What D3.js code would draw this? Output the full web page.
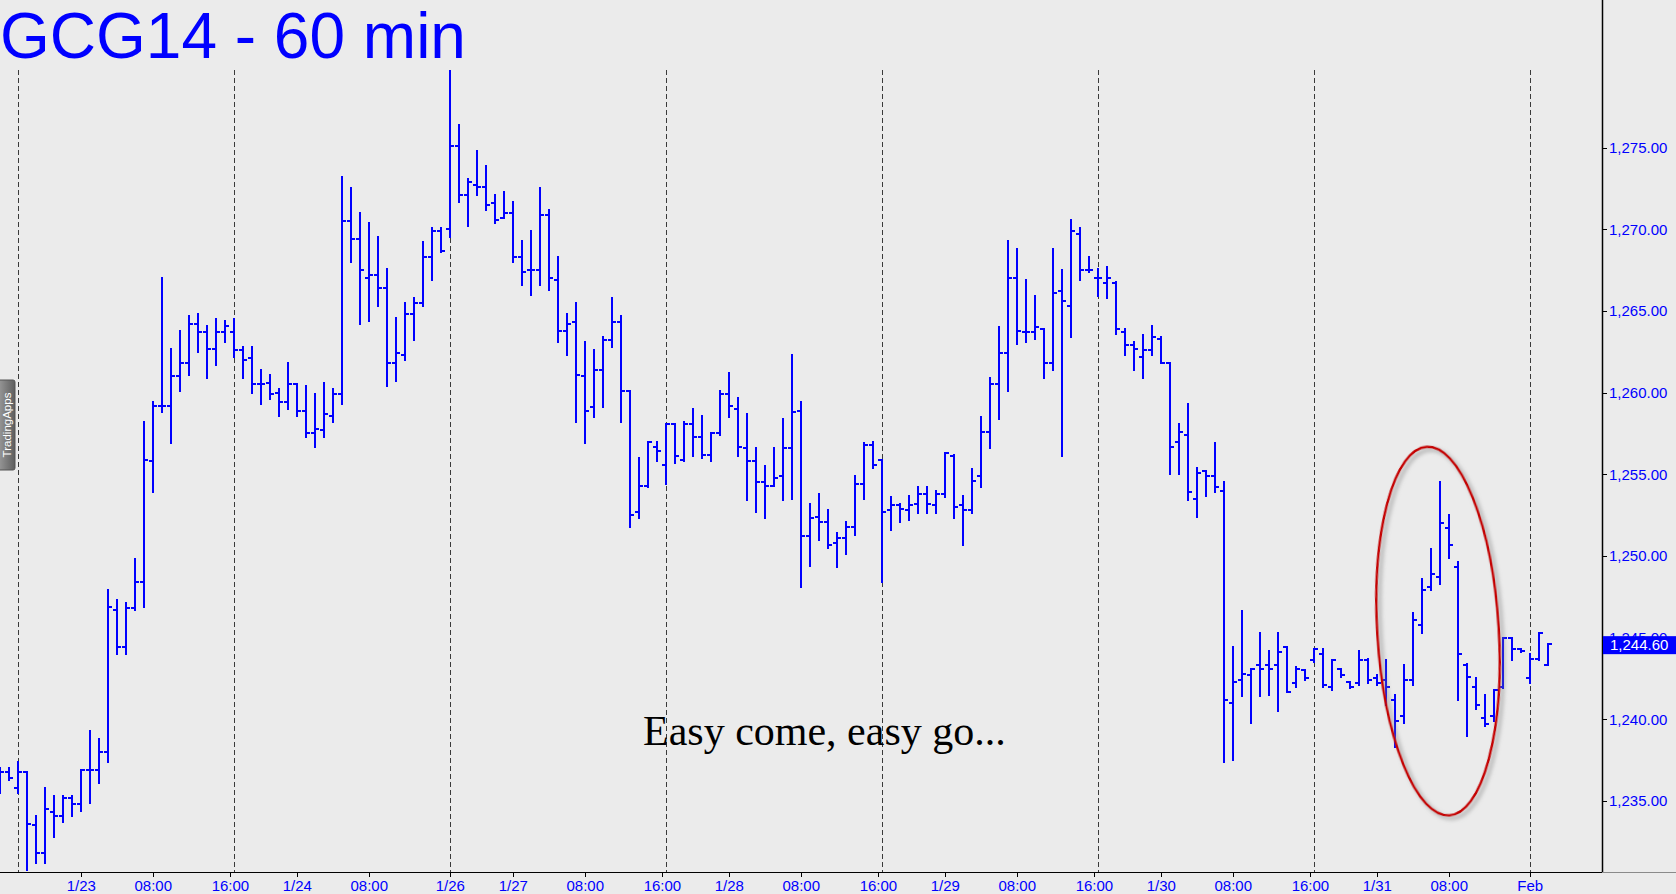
<!DOCTYPE html>
<html><head><meta charset="utf-8">
<script src="https://cdn.jsdelivr.net/npm/d3@7"></script>
<style>html,body{margin:0;padding:0;background:#ebebeb;overflow:hidden}</style>
</head><body>
<svg id="c" width="1676" height="894"></svg>
<script>
// ---- data (60-minute OHLC bars, GCG14) ----
const firstBarIndex = -2;
const opens = [1237.0,1236.8,1235.8,1236.8,1233.5,1231.8,1234.3,1234.1,1235.2,1234.8,1236.9,1236.9,1238.0,1246.7,1244.4,1246.8,1248.4,1255.8,1259.2,1259.2,1261.0,1261.8,1264.2,1263.7,1262.7,1263.7,
1263.7,1262.6,1262.1,1260.5,1260.6,1260.0,1259.4,1260.5,1258.9,1257.5,1257.7,1258.6,1259.9,1270.5,1269.4,1267.0,1267.2,1266.4,1261.8,1262.3,1264.8,1265.5,1268.3,1269.9,
1270.0,1275.1,1272.1,1272.7,1272.6,1271.6,1270.7,1271.0,1268.3,1267.5,1267.5,1270.9,1266.9,1263.8,1264.3,1261.0,1259.1,1261.4,1263.2,1264.3,1260.1,1252.7,1254.3,1256.7,
1255.6,1258.1,1255.9,1258.1,1257.3,1256.2,1257.5,1259.9,1259.0,1256.6,1255.8,1254.5,1254.3,1254.9,1256.6,1258.9,1251.2,1252.4,1252.1,1250.8,1251.1,1251.8,1254.4,1256.8,
1255.9,1252.8,1253.1,1252.8,1253.2,1253.8,1253.1,1253.8,1256.1,1253.1,1252.8,1254.9,1257.6,1260.5,1262.4,1267.0,1263.7,1263.7,1263.9,1261.8,1266.2,1265.3,1269.7,1267.5,
1267.0,1266.7,1266.7,1263.7,1262.9,1262.2,1262.6,1263.3,1261.8,1257.0,1257.4,1253.5,1255.2,1254.9,1254.0,1241.0,1242.4,1242.7,1243.3,1243.3,1243.3,1244.4,1242.2,1243.0,
1243.6,1244.0,1242.0,1243.1,1242.3,1242.2,1243.6,1242.5,1242.4,1241.2,1240.2,1242.4,1245.8,1248.1,1248.7,1251.7,1249.3,1243.3,1242.0,1240.1,1240.2,1242.0,1245.0,1244.3,
1242.5,1243.7,1243.3];
const highs = [1237.0,1237.0,1237.4,1236.8,1234.1,1235.8,1235.3,1235.3,1235.3,1236.9,1239.3,1238.8,1247.9,1247.3,1247.1,1249.8,1258.2,1259.4,1267.0,1262.7,1263.8,1264.7,1264.8,1264.1,1264.5,1264.4,
1264.5,1262.8,1262.8,1261.4,1261.1,1260.2,1261.8,1260.5,1260.4,1259.9,1260.6,1260.2,1273.2,1272.5,1271.0,1270.4,1269.5,1267.6,1264.6,1265.5,1265.8,1269.2,1270.1,1270.1,
1279.7,1276.4,1273.1,1274.8,1273.9,1272.1,1272.3,1271.7,1269.3,1269.9,1272.5,1271.2,1268.3,1264.8,1265.5,1263.1,1262.6,1263.4,1265.8,1264.7,1260.1,1256.0,1257.0,1257.0,
1258.1,1258.1,1258.2,1259.0,1258.6,1257.5,1260.1,1261.2,1259.7,1258.7,1256.6,1255.5,1256.6,1258.4,1262.3,1259.4,1253.2,1253.8,1252.8,1251.4,1252.1,1254.9,1256.9,1257.0,
1255.9,1253.6,1253.2,1253.7,1254.2,1254.2,1254.0,1256.3,1256.2,1253.7,1255.3,1258.5,1260.9,1264.0,1269.3,1268.8,1266.9,1265.9,1263.9,1268.8,1267.5,1270.6,1270.1,1268.3,
1267.6,1267.7,1266.8,1263.9,1263.1,1263.5,1264.1,1263.4,1261.8,1258.1,1259.3,1255.4,1255.2,1256.9,1254.5,1244.4,1246.6,1243.1,1245.3,1244.2,1245.3,1244.4,1243.2,1243.0,
1244.3,1244.3,1243.6,1243.1,1242.3,1244.2,1243.7,1242.7,1243.6,1241.5,1243.3,1246.5,1248.6,1250.4,1254.5,1252.5,1249.6,1243.4,1242.5,1241.5,1241.8,1245.0,1245.0,1244.3,
1244.0,1245.3,1244.6];
const lows = [1235.5,1236.3,1235.5,1230.8,1231.2,1231.2,1232.8,1233.7,1234.1,1234.4,1234.9,1236.1,1237.4,1244.0,1244.0,1246.7,1246.9,1253.9,1258.8,1256.9,1260.1,1261.1,1262.5,1260.9,1261.7,1263.1,
1262.2,1260.9,1260.0,1259.3,1259.6,1258.6,1259.0,1258.6,1257.3,1256.7,1257.3,1258.2,1259.3,1268.0,1264.2,1264.4,1265.3,1260.4,1260.7,1262.0,1263.2,1265.3,1266.9,1268.6,
1269.5,1271.7,1270.2,1272.1,1271.2,1270.4,1270.7,1268.0,1266.6,1266.0,1266.6,1266.3,1263.1,1262.3,1258.2,1256.9,1258.5,1259.1,1262.8,1258.2,1251.8,1252.3,1254.2,1255.8,
1254.4,1255.7,1255.8,1256.1,1256.0,1255.8,1257.4,1258.5,1256.1,1253.4,1252.7,1252.3,1254.3,1253.4,1253.5,1248.1,1249.4,1251.0,1250.5,1249.3,1250.1,1251.3,1253.5,1255.4,
1248.4,1251.6,1252.1,1252.2,1252.6,1252.6,1252.6,1253.6,1252.3,1250.7,1252.6,1254.2,1256.6,1258.4,1260.1,1263.0,1263.1,1263.3,1260.9,1261.4,1256.1,1263.4,1266.9,1267.4,
1265.9,1265.8,1263.6,1262.3,1261.4,1260.9,1262.3,1261.8,1255.0,1255.0,1253.4,1252.4,1253.7,1253.9,1237.4,1237.5,1241.4,1239.8,1241.4,1241.5,1240.5,1241.7,1242.0,1242.4,
1243.5,1242.0,1241.8,1242.6,1241.9,1242.1,1242.2,1242.1,1240.9,1238.3,1239.8,1242.1,1245.3,1247.9,1248.3,1249.9,1241.2,1239.0,1240.6,1239.6,1239.9,1241.9,1243.6,1244.1,
1242.2,1243.6,1243.3];
const closes = [1236.8,1236.4,1236.8,1233.6,1231.8,1234.5,1234.1,1235.2,1234.8,1236.9,1236.9,1238.0,1246.9,1244.4,1246.8,1248.4,1255.9,1259.2,1259.2,1261.0,1261.8,1264.2,1263.7,1262.7,1263.7,1264.1,
1262.6,1262.0,1260.5,1260.5,1259.9,1259.4,1260.5,1258.9,1257.5,1257.8,1258.7,1259.9,1270.5,1269.4,1267.5,1267.2,1266.4,1261.8,1262.4,1264.8,1265.5,1268.3,1269.9,1268.7,
1275.1,1272.1,1272.9,1272.6,1271.5,1270.6,1271.0,1268.3,1267.4,1267.5,1270.9,1267.0,1263.8,1264.2,1261.1,1258.9,1261.4,1263.2,1264.3,1260.1,1252.5,1254.3,1257.0,1256.4,
1258.1,1256.1,1258.1,1257.3,1256.2,1257.5,1259.9,1259.2,1256.7,1255.8,1254.5,1254.3,1254.8,1256.6,1258.8,1251.2,1252.3,1252.1,1250.7,1251.1,1251.8,1254.4,1256.8,1255.6,
1252.7,1253.1,1252.9,1253.1,1253.8,1253.2,1253.8,1256.3,1253.0,1252.8,1254.6,1257.6,1260.5,1262.4,1267.0,1263.8,1263.7,1264.0,1261.8,1266.1,1265.6,1269.9,1267.5,1267.5,
1267.0,1267.0,1263.9,1262.9,1262.7,1262.6,1263.4,1261.8,1256.7,1257.6,1253.9,1255.1,1254.9,1254.2,1241.2,1242.3,1242.8,1243.1,1243.1,1243.1,1244.1,1241.7,1243.1,1242.5,
1244.3,1242.1,1243.6,1242.7,1242.0,1243.6,1242.4,1242.2,1242.0,1239.9,1242.4,1246.1,1247.9,1248.9,1252.0,1250.7,1244.0,1242.6,1240.9,1239.7,1241.8,1245.0,1244.3,1244.2,
1243.7,1245.3,1244.6];
const priceTicks = [1235,1240,1245,1250,1255,1260,1265,1270,1275];
const timeTickBars = [7,15,23.57,31,39,48,55,63,71.57,79,87,95.57,103,111,119.57,127,135,143.57,151,159,168];
const timeTickLabels = ["1/23","08:00","16:00","1/24","08:00","1/26","1/27","08:00","16:00","1/28","08:00","16:00","1/29","08:00","16:00","1/30","08:00","16:00","1/31","08:00","Feb"];
const sessionStartBars = [0,24,48,72,96,120,144,168];
const lastPrice = 1244.60;
const titleText = "GCG14 - 60 min";
const noteText = "Easy come, easy go...";
const highlightBars = [151, 164.5];       // span of the red circle (bar units)
const highlightPrices = [1234.1, 1256.7];  // span of the red circle (price units)

// ---- layout ----
const W = 1676, H = 894, axisX = 1602, axisY = 872;
const svg = d3.select("#c");
const blue = "#0000ff";

const bars = opens.map((o, i) => ({k: firstBarIndex + i, o, h: highs[i], l: lows[i], c: closes[i]}));

const x = d3.scaleLinear().domain([-2, 170]).range([0.3, 1548.3]);
const y = d3.scaleLinear().domain([1230.65, 1284.04]).range([axisY, 0]);

svg.append("rect").attr("width", W).attr("height", H).attr("fill", "#ebebeb");

// shadow filter for ellipse
const defs = svg.append("defs");
const f = defs.append("filter").attr("id", "sh").attr("x", "-30%").attr("y", "-30%").attr("width", "160%").attr("height", "160%");
f.append("feGaussianBlur").attr("in", "SourceAlpha").attr("stdDeviation", 2.2).attr("result", "b");
f.append("feOffset").attr("in", "b").attr("dx", 3).attr("dy", 3).attr("result", "o");
f.append("feFlood").attr("flood-color", "#777").attr("flood-opacity", 0.7);
f.append("feComposite").attr("in2", "o").attr("operator", "in").attr("result", "s");
const fm = f.append("feMerge");
fm.append("feMergeNode").attr("in", "s");
fm.append("feMergeNode").attr("in", "SourceGraphic");

// session separators
svg.append("g").selectAll("line").data(sessionStartBars).join("line")
  .attr("x1", d => Math.round(x(d)) + 0.5).attr("x2", d => Math.round(x(d)) + 0.5)
  .attr("y1", 70).attr("y2", axisY)
  .attr("stroke", "#3a3a3a").attr("stroke-width", 1).attr("stroke-dasharray", "5,3");

// title
svg.append("text").attr("x", 0).attr("y", 58).attr("fill", blue)
  .attr("font-family", "Liberation Sans, Arial, sans-serif").attr("font-size", 64)
  .text(titleText);

// OHLC bars
const gb = svg.append("g").attr("stroke", blue).attr("stroke-width", 2).attr("shape-rendering", "crispEdges");
const bx = d => Math.round(x(d.k));
gb.selectAll("line.v").data(bars).join("line").attr("class", "v")
  .attr("x1", bx).attr("x2", bx)
  .attr("y1", d => y(d.h) - 1).attr("y2", d => y(d.l) + 1);
gb.selectAll("line.o").data(bars).join("line").attr("class", "o")
  .attr("x1", d => bx(d) - 4).attr("x2", d => bx(d))
  .attr("y1", d => y(d.o)).attr("y2", d => y(d.o));
gb.selectAll("line.cl").data(bars).join("line").attr("class", "cl")
  .attr("x1", d => bx(d)).attr("x2", d => bx(d) + 4)
  .attr("y1", d => y(d.c)).attr("y2", d => y(d.c));

// annotation text
svg.append("text").attr("x", 643).attr("y", 745).attr("fill", "#000")
  .attr("font-family", "Liberation Serif, Times New Roman, serif").attr("font-size", 42)
  .text(noteText);

// red ellipse around the spike
const ecx = (x(highlightBars[0]) + x(highlightBars[1])) / 2;
const ecy = (y(highlightPrices[0]) + y(highlightPrices[1])) / 2;
const erx = (x(highlightBars[1]) - x(highlightBars[0])) / 2;
const ery = (y(highlightPrices[0]) - y(highlightPrices[1])) / 2;
svg.append("ellipse").attr("cx", ecx).attr("cy", ecy).attr("rx", erx).attr("ry", ery)
  .attr("transform", `rotate(-3.5 ${ecx} ${ecy})`)
  .attr("fill", "none").attr("stroke", "#c40000").attr("stroke-width", 2.5).attr("filter", "url(#sh)");

// TradingApps tab
const tab = svg.append("g");
const tg = defs.append("linearGradient").attr("id", "tg").attr("x1", 0).attr("x2", 1).attr("y1", 0).attr("y2", 0);
tg.append("stop").attr("offset", 0).attr("stop-color", "#9a9a9a");
tg.append("stop").attr("offset", 1).attr("stop-color", "#5e5e5e");
tab.append("rect").attr("x", -2).attr("y", 380).attr("width", 17).attr("height", 90).attr("rx", 2)
  .attr("fill", "url(#tg)").attr("stroke", "#555").attr("stroke-width", 1);
tab.append("text").attr("transform", "translate(11,425) rotate(-90)").attr("text-anchor", "middle")
  .attr("fill", "#fff").attr("font-family", "Liberation Sans, Arial, sans-serif").attr("font-size", 11.5)
  .text("TradingApps");

// right price axis
svg.append("rect").attr("x", axisX).attr("y", 0).attr("width", W - axisX).attr("height", axisY).attr("fill", "#ebebeb");
const fmt = d3.format(",.2f");
const ya = svg.append("g");
ya.selectAll("line").data(priceTicks).join("line")
  .attr("x1", axisX).attr("x2", axisX + 5).attr("y1", d => Math.round(y(d)) + 0.5).attr("y2", d => Math.round(y(d)) + 0.5)
  .attr("stroke", "#000").attr("stroke-width", 1);
ya.selectAll("text").data(priceTicks).join("text")
  .attr("x", axisX + 7).attr("y", d => y(d) + 5.3).attr("fill", blue)
  .attr("font-family", "Liberation Sans, Arial, sans-serif").attr("font-size", 15)
  .text(d => fmt(d));
svg.append("line").attr("x1", axisX + 0.5).attr("x2", axisX + 0.5).attr("y1", 0).attr("y2", axisY)
  .attr("stroke", "#000").attr("stroke-width", 1.5);

// last price marker
svg.append("rect").attr("x", axisX + 1).attr("y", y(lastPrice) - 8).attr("width", W - axisX - 1).attr("height", 18).attr("fill", blue);
svg.append("text").attr("x", axisX + 8).attr("y", y(lastPrice) + 6).attr("fill", "#fff")
  .attr("font-family", "Liberation Sans, Arial, sans-serif").attr("font-size", 15)
  .text(fmt(lastPrice));

// bottom time axis
svg.append("line").attr("x1", 0).attr("x2", axisX).attr("y1", axisY + 0.5).attr("y2", axisY + 0.5).attr("stroke", "#000").attr("stroke-width", 1);
svg.append("line").attr("x1", axisX).attr("x2", W).attr("y1", axisY + 0.5).attr("y2", axisY + 0.5).attr("stroke", "#8a8a8a").attr("stroke-width", 1);
const xa = svg.append("g");
xa.selectAll("line").data(timeTickBars).join("line")
  .attr("x1", d => Math.round(x(d)) + 0.5).attr("x2", d => Math.round(x(d)) + 0.5)
  .attr("y1", axisY).attr("y2", axisY + 5).attr("stroke", "#000").attr("stroke-width", 1);
xa.selectAll("text").data(timeTickBars).join("text")
  .attr("x", d => x(d)).attr("y", 891).attr("text-anchor", "middle").attr("fill", blue)
  .attr("font-family", "Liberation Sans, Arial, sans-serif").attr("font-size", 15)
  .text((d, i) => timeTickLabels[i]);
</script>
</body></html>
